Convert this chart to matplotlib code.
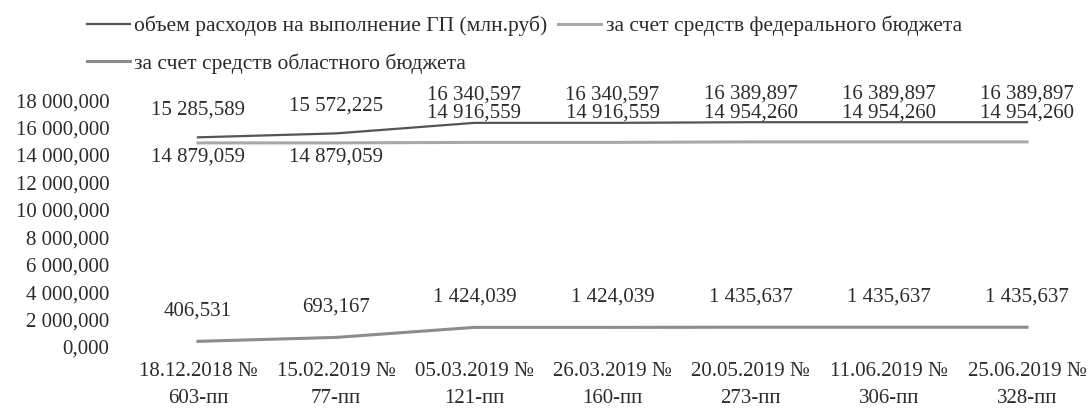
import matplotlib.pyplot as plt
from matplotlib.ticker import FuncFormatter

plt.rcParams['font.family'] = ['Liberation Serif', 'DejaVu Serif']

# values in mln rub, as printed on the labels
categories = ['18.12.2018 №\n603-пп', '15.02.2019 №\n77-пп', '05.03.2019 №\n121-пп',
              '26.03.2019 №\n160-пп', '20.05.2019 №\n273-пп', '11.06.2019 №\n306-пп',
              '25.06.2019 №\n328-пп']
total = [15285.589, 15572.225, 16340.597, 16340.597, 16389.897, 16389.897, 16389.897]
federal = [14879.059, 14879.059, 14916.559, 14916.559, 14954.260, 14954.260, 14954.260]
regional = [406.531, 693.167, 1424.039, 1424.039, 1435.637, 1435.637, 1435.637]

names = ['объем расходов на выполнение ГП (млн.руб)',
         'за счет средств федерального бюджета',
         'за счет средств областного бюджета']


def ru(v):
    return f'{v:,.3f}'.replace(',', ' ').replace('.', ',')


txt = '#2b2b2b'
fs = 15
fig = plt.figure(figsize=(10.92, 4.12), dpi=100)
ax = fig.add_axes([0.118, 0.158, 0.882, 0.599])

x = list(range(len(categories)))
scale = 1000  # axis is drawn in thousands
l1, = ax.plot(x, [v * scale for v in total], color='#555555', lw=1.6)
l2, = ax.plot(x, [v * scale for v in federal], color='#a8a8a8', lw=2.2)
l3, = ax.plot(x, [v * scale for v in regional], color='#8c8c8c', lw=2.2)

for i in x:
    ax.annotate(ru(total[i]), (i, total[i] * scale), xytext=(0, 20),
                textcoords='offset points', ha='center', va='center',
                fontsize=fs, color=txt)
    if i < 2:
        ax.annotate(ru(federal[i]), (i, federal[i] * scale), xytext=(0, -3),
                    textcoords='offset points', ha='center', va='top',
                    fontsize=fs, color=txt)
    else:
        ax.annotate(ru(federal[i]), (i, federal[i] * scale), xytext=(0, 21),
                    textcoords='offset points', ha='center', va='center',
                    fontsize=fs, color=txt)
    ax.annotate(ru(regional[i]), (i, regional[i] * scale), xytext=(0, 22),
                textcoords='offset points', ha='center', va='center',
                fontsize=fs, color=txt)

ax.set_xlim(-0.5, 6.47)
ax.set_ylim(0, 18000000)
ax.set_yticks(range(0, 18000001, 2000000))
ax.yaxis.set_major_formatter(FuncFormatter(lambda v, p: ru(v / 1000)))
ax.set_xticks(x)
ax.set_xticklabels(categories, linespacing=1.55)
ax.tick_params(axis='both', length=0, labelsize=fs, colors=txt)
ax.tick_params(axis='y', pad=14)
ax.tick_params(axis='x', pad=11)
for s in ax.spines.values():
    s.set_visible(False)

fig.legend([l1, l3, l2], [names[0], names[2], names[1]], ncol=2,
           loc='upper left', bbox_to_anchor=(0.0797, 0.962), frameon=False,
           fontsize=15.5, handlelength=2.0, handletextpad=0.2,
           columnspacing=0.5, labelspacing=0.8, borderpad=0,
           borderaxespad=0, labelcolor=txt)

fig.savefig('out.png', dpi=100)
